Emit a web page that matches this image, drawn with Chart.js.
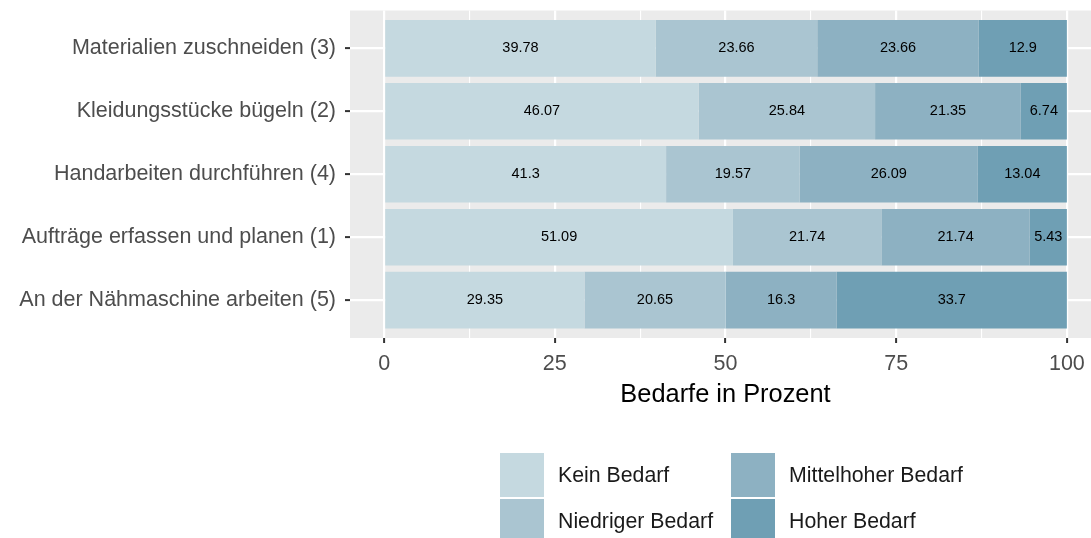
<!DOCTYPE html>
<html>
<head>
<meta charset="utf-8">
<script src="https://cdn.jsdelivr.net/npm/chart.js@4/dist/chart.umd.min.js"></script>
<style>
  html, body { margin: 0; padding: 0; background: #ffffff; overflow: hidden; }
  #wrap { position: relative; width: 1091px; height: 538px; overflow: hidden; }
  #c { position: absolute; left: 0; top: 0; }
  .lg-item { position: absolute; display: flex; align-items: center; font-family: "Liberation Sans", Arial, sans-serif; font-size: 21.3px; color: #1a1a1a; white-space: nowrap; }
  .lg-key { width: 44px; height: 44px; margin-right: 14px; }
</style>
</head>
<body>
<div id="wrap">
  <canvas id="c" width="1101" height="538"></canvas>
</div>
<script>
// ---- data ----
const categories = [
  "Materialien zuschneiden (3)",
  "Kleidungsstücke bügeln (2)",
  "Handarbeiten durchführen (4)",
  "Aufträge erfassen und planen (1)",
  "An der Nähmaschine arbeiten (5)"
];
const seriesNames = ["Kein Bedarf", "Niedriger Bedarf", "Mittelhoher Bedarf", "Hoher Bedarf"];
const keinBedarf       = [39.78, 46.07, 41.3, 51.09, 29.35];
const niedrigerBedarf  = [23.66, 25.84, 19.57, 21.74, 20.65];
const mittelhoherBedarf= [23.66, 21.35, 26.09, 21.74, 16.3];
const hoherBedarf      = [12.9, 6.74, 13.04, 5.43, 33.7];
const xTickValues = [0, 25, 50, 75, 100];
const xMinorValues = [12.5, 37.5, 62.5, 87.5];
const seriesColors = ["#c5d9e0", "#aac5d1", "#8db1c2", "#6f9fb4"];

const FONT = '"Liberation Sans", Arial, sans-serif';
const seriesValues = [keinBedarf, niedrigerBedarf, mittelhoherBedarf, hoherBedarf];

const datasets = seriesValues.map((vals, si) => ({
  label: seriesNames[si],
  data: vals.map((v, i) => ({ x: v, y: i + 1 })),
  backgroundColor: seriesColors[si],
  borderWidth: 0,
  stack: 's',
  barPercentage: 0.9,
  categoryPercentage: 1.0
}));

const panelBg = {
  id: 'panelBg',
  beforeDraw(chart) {
    const { ctx, chartArea: a } = chart;
    ctx.save();
    ctx.fillStyle = '#ebebeb';
    ctx.fillRect(a.left, a.top, a.right - a.left, a.bottom - a.top);
    ctx.restore();
  }
};

const barLabels = {
  id: 'barLabels',
  afterDatasetsDraw(chart) {
    const { ctx } = chart;
    ctx.save();
    ctx.font = '14.5px ' + FONT;
    ctx.fillStyle = '#000000';
    ctx.textAlign = 'center';
    ctx.textBaseline = 'middle';
    chart.data.datasets.forEach((ds, di) => {
      const meta = chart.getDatasetMeta(di);
      meta.data.forEach((el, i) => {
        const cx = (el.x + el.base) / 2;
        ctx.fillText(String(ds.data[i].x), cx, el.y);
      });
    });
    ctx.restore();
  }
};

const allXTicks = xTickValues.concat(xMinorValues).sort((a, b) => a - b);

new Chart(document.getElementById('c'), {
  type: 'bar',
  data: { datasets },
  plugins: [panelBg, barLabels],
  options: {
    responsive: false,
    animation: false,
    indexAxis: 'y',
    layout: { padding: { left: 0, right: 0, top: 10.5, bottom: 120 } },
    plugins: { legend: { display: false }, tooltip: { enabled: false } },
    scales: {
      x: {
        type: 'linear',
        stacked: true,
        min: -5,
        max: 105,
        afterBuildTicks(scale) {
          scale.ticks = allXTicks.map(v => ({ value: v }));
        },
        afterFit(scale) { scale.height = 80; scale.paddingLeft = 0; scale.paddingRight = 0; },
        border: { display: false },
        grid: {
          color: '#ffffff',
          lineWidth: (ctx) => (ctx.tick && xTickValues.includes(ctx.tick.value)) ? 2.2 : 1.1,
          drawTicks: true,
          tickLength: 5,
          tickColor: (ctx) => (ctx.tick && xTickValues.includes(ctx.tick.value)) ? '#333333' : 'rgba(0,0,0,0)',
          tickWidth: 2
        },
        ticks: {
          autoSkip: false,
          maxRotation: 0,
          padding: 8,
          color: '#4d4d4d',
          font: { family: FONT, size: 21.5 },
          callback: (v) => xTickValues.includes(v) ? String(v) : ''
        },
        title: {
          display: true,
          text: 'Bedarfe in Prozent',
          color: '#000000',
          font: { family: FONT, size: 25.4 },
          padding: { top: 0, bottom: 7.5 }
        }
      },
      y: {
        type: 'linear',
        reverse: true,
        offset: false,
        min: 0.4,
        max: 5.6,
        afterBuildTicks(scale) {
          scale.ticks = categories.map((c, i) => ({ value: i + 1 }));
        },
        afterFit(scale) { scale.width = 350; scale.paddingTop = 0; scale.paddingBottom = 0; },
        border: { display: false },
        grid: {
          offset: false,
          color: '#ffffff',
          lineWidth: 2.2,
          drawTicks: true,
          tickLength: 5,
          tickColor: '#333333',
          tickWidth: 2
        },
        ticks: {
          autoSkip: false,
          padding: 9,
          color: '#4d4d4d',
          font: { family: FONT, size: 21.5 },
          callback: (v) => categories[Math.round(v) - 1] || ''
        }
      }
    }
  }
});

// ---- legend (HTML, built from the series arrays) ----
const wrap = document.getElementById('wrap');
const legendPos = [
  { left: 500, top: 453 }, { left: 500, top: 499 },
  { left: 731, top: 453 }, { left: 731, top: 499 }
];
seriesNames.forEach((name, i) => {
  const item = document.createElement('div');
  item.className = 'lg-item';
  item.style.left = legendPos[i].left + 'px';
  item.style.top = legendPos[i].top + 'px';
  const key = document.createElement('div');
  key.className = 'lg-key';
  key.style.background = seriesColors[i];
  const txt = document.createElement('span');
  txt.textContent = name;
  item.appendChild(key);
  item.appendChild(txt);
  wrap.appendChild(item);
});
</script>
</body>
</html>
